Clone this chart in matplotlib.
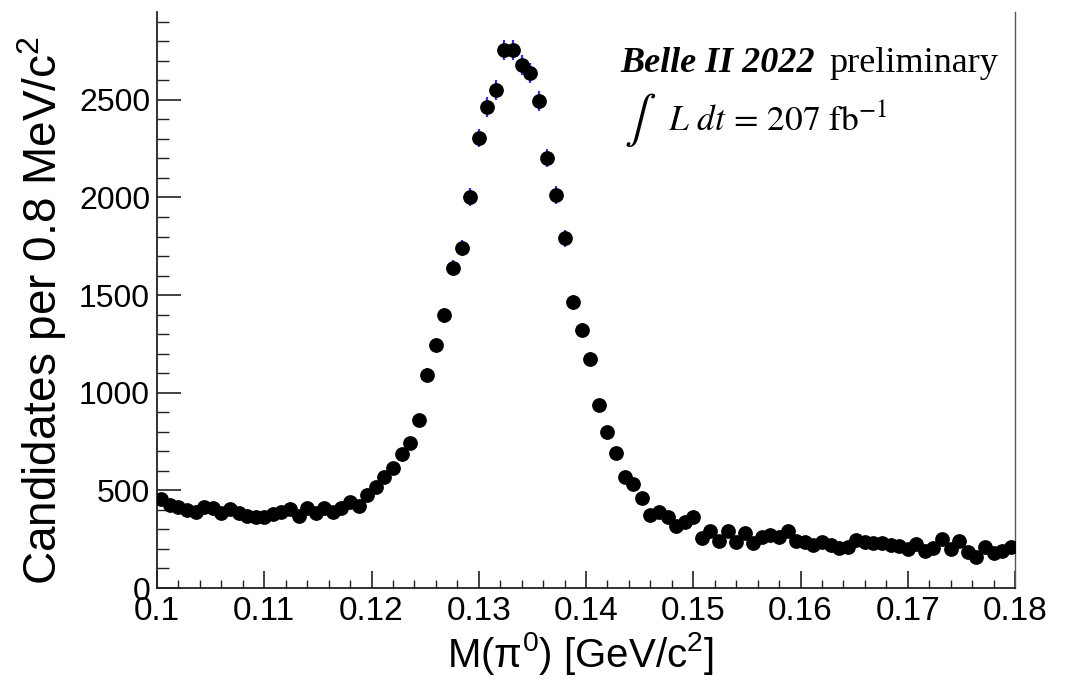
import matplotlib
matplotlib.use('Agg')
import matplotlib.pyplot as plt
import numpy as np
from matplotlib.ticker import MultipleLocator, FixedLocator

# ---- data ----
x_min = 0.10
x_max = 0.18
n_bins = 100
counts = [
    457, 426, 416, 400, 390, 416, 411, 385, 406, 385,
    370, 365, 365, 380, 390, 406, 370, 411, 385, 411,
    390, 411, 441, 421, 477, 518, 570, 614, 688, 744,
    862, 1093, 1242, 1396, 1637, 1740, 2002, 2305, 2464, 2551,
    2756, 2756, 2679, 2638, 2495, 2202, 2012, 1791, 1463, 1320,
    1175, 939, 801, 693, 570, 532, 460, 375, 387, 362,
    315, 339, 364, 257, 293, 241, 293, 238, 282, 228,
    262, 270, 262, 290, 243, 238, 218, 236, 221, 205,
    210, 246, 236, 231, 231, 221, 216, 198, 226, 190,
    205, 252, 200, 241, 185, 159, 210, 180, 190, 210,
]
y_ticks = [0, 500, 1000, 1500, 2000, 2500]
x_ticks = [0.10, 0.11, 0.12, 0.13, 0.14, 0.15, 0.16, 0.17, 0.18]
x_ticklabels = ["0.1", "0.11", "0.12", "0.13", "0.14", "0.15", "0.16", "0.17", "0.18"]
y_max = 2950

plt.rcParams['mathtext.fontset'] = 'custom'
plt.rcParams['mathtext.rm'] = 'Liberation Sans'
plt.rcParams['mathtext.it'] = 'Liberation Sans:italic'
plt.rcParams['font.family'] = ['Liberation Sans', 'DejaVu Sans']

counts = np.array(counts, dtype=float)
edges = np.linspace(x_min, x_max, n_bins + 1)
centers = 0.5 * (edges[:-1] + edges[1:])
errors = np.sqrt(counts)

fig = plt.figure(figsize=(10.77, 6.8), dpi=100)
ax = fig.add_axes([157/1077, 1 - 588/680, (1015-157)/1077, (588-12)/680])

ax.errorbar(centers, counts, yerr=errors, fmt='o', color='black', ms=9.6,
            ecolor='#3030e0', elinewidth=1.6, capsize=0, zorder=3)

ax.set_xlim(x_min, x_max)
ax.set_ylim(0, y_max)
ax.xaxis.set_major_locator(FixedLocator(x_ticks))
ax.set_xticklabels(x_ticklabels)
ax.xaxis.set_minor_locator(MultipleLocator(0.002))
ax.yaxis.set_major_locator(FixedLocator(y_ticks))
ax.yaxis.set_minor_locator(MultipleLocator(100))

ax.tick_params(axis='x', which='major', direction='in', length=12, width=1.2,
               labelsize=24, pad=6, color='#222222')
ax.tick_params(axis='x', which='minor', direction='in', length=6, width=1.0, color='#222222')
ax.tick_params(axis='y', which='major', direction='in', length=17, width=1.2,
               labelsize=23, pad=5, color='#222222')
ax.tick_params(axis='y', which='minor', direction='in', length=8.5, width=1.0, color='#222222')

for s in ['left', 'bottom']:
    ax.spines[s].set_linewidth(1.3)
    ax.spines[s].set_color('#222222')
for s in ['top', 'right']:
    ax.spines[s].set_linewidth(1.0)
    ax.spines[s].set_color('#555555')
ax.spines['top'].set_visible(False)

ax.set_ylabel('Candidates per 0.8 MeV/c$^{2}$', fontsize=33)
ax.yaxis.set_label_coords(-88/858, 0.5 - 10/576)
ax.set_xlabel('M(π$^{0}$) [GeV/c$^{2}$]', fontsize=29)
ax.xaxis.set_label_coords(0.5 - 6/858, -42/576)

# annotations
fig.text(620/1077, 1 - 72/680, 'Belle II 2022', fontsize=26, family='Liberation Serif',
         weight='bold', style='italic', ha='left', va='baseline')
fig.text(998/1077, 1 - 72/680, 'preliminary', fontsize=26, family='Liberation Serif',
         ha='right', va='baseline')
fig.text(624/1077, 1 - 132/680, r'$\int$', fontsize=34, math_fontfamily='stix',
         ha='left', va='baseline')
fig.text(668/1077, 1 - 131/680, r'$L\ dt\, =\, 207\ \mathrm{fb}^{-1}$', fontsize=25.5,
         math_fontfamily='stix', ha='left', va='baseline')

fig.savefig('out.png', dpi=100)
